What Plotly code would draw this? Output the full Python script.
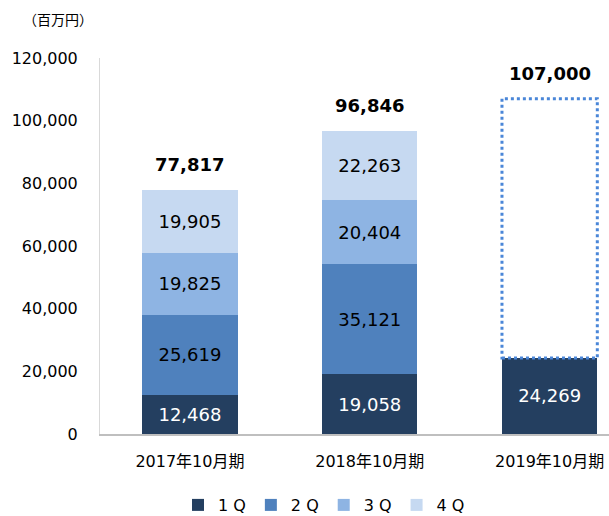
import plotly.graph_objects as go

categories = ["2017年10月期", "2018年10月期", "2019年10月期"]
q1 = [12468, 19058, 24269]
q2 = [25619, 35121, None]
q3 = [19825, 20404, None]
q4 = [19905, 22263, None]
totals = [77817, 96846, 107000]
series_names = ["1 Q", "2 Q", "3 Q", "4 Q"]
colors = ["#243F60", "#4F81BD", "#8EB4E3", "#C6D9F1"]
text_colors = ["white", "black", "black", "black"]

font_family = "Verdana, DejaVu Sans, Noto Sans CJK JP, sans-serif"
bar_width = 0.53

fig = go.Figure()
for name, vals, c, tc in zip(series_names, [q1, q2, q3, q4], colors, text_colors):
    fig.add_trace(go.Bar(
        x=categories, y=vals, name=name, marker_color=c,
        marker_line_width=0,
        width=bar_width,
        text=[f"{v:,}" if v is not None else "" for v in vals],
        textposition="inside", insidetextanchor="middle",
        textfont=dict(color=tc, size=18, family=font_family),
        constraintext="none",
        hoverinfo="skip",
    ))

# dotted forecast box for the last period
i = 2
fig.add_shape(type="rect", xref="x", yref="y",
              x0=i - bar_width / 2, x1=i + bar_width / 2,
              y0=q1[i], y1=totals[i],
              line=dict(color="#4A86D8", width=3, dash="dot"),
              fillcolor="rgba(0,0,0,0)")

for cat, t in zip(categories, totals):
    fig.add_annotation(x=cat, y=t, text=f"<b>{t:,}</b>", showarrow=False,
                       yanchor="bottom", yshift=13,
                       font=dict(size=18, color="black", family=font_family))

fig.add_annotation(xref="paper", yref="paper", x=(58 - 100) / 509, y=1 + (58 - 19) / 376,
                   xanchor="center", yanchor="middle",
                   text="（百万円）", showarrow=False,
                   font=dict(size=14, color="black", family="Noto Sans CJK JP"))

fig.update_layout(
    barmode="stack",
    width=609, height=516,
    margin=dict(l=100, r=0, t=58, b=82, autoexpand=False),
    plot_bgcolor="white", paper_bgcolor="white",
    font=dict(family=font_family, size=16, color="black"),
    showlegend=True,
    legend=dict(orientation="h", x=(178 - 100) / 509, xanchor="left",
                y=-(505 - 434) / 376, yanchor="middle",
                font=dict(size=16, family=font_family), itemwidth=30,
                traceorder="normal"),
    xaxis=dict(range=[-0.5, 2.33], showline=True, linecolor="#BFBFBF", linewidth=1.5,
               ticks="", automargin=False, ticklabelstandoff=12,
               tickfont=dict(size=16, family="DejaVu Sans, Noto Sans CJK JP")),
    yaxis=dict(range=[0, 120000], dtick=20000, tickformat=",", showgrid=False,
               showline=True, linecolor="#D9D9D9", linewidth=1, ticks="",
               ticklabelstandoff=18, zeroline=False, automargin=False,
               tickfont=dict(size=16, family=font_family)),
)

fig.write_html("out.html", config={"displayModeBar": False},
               post_script="document.body.style.margin='0';document.body.style.overflow='hidden';")
